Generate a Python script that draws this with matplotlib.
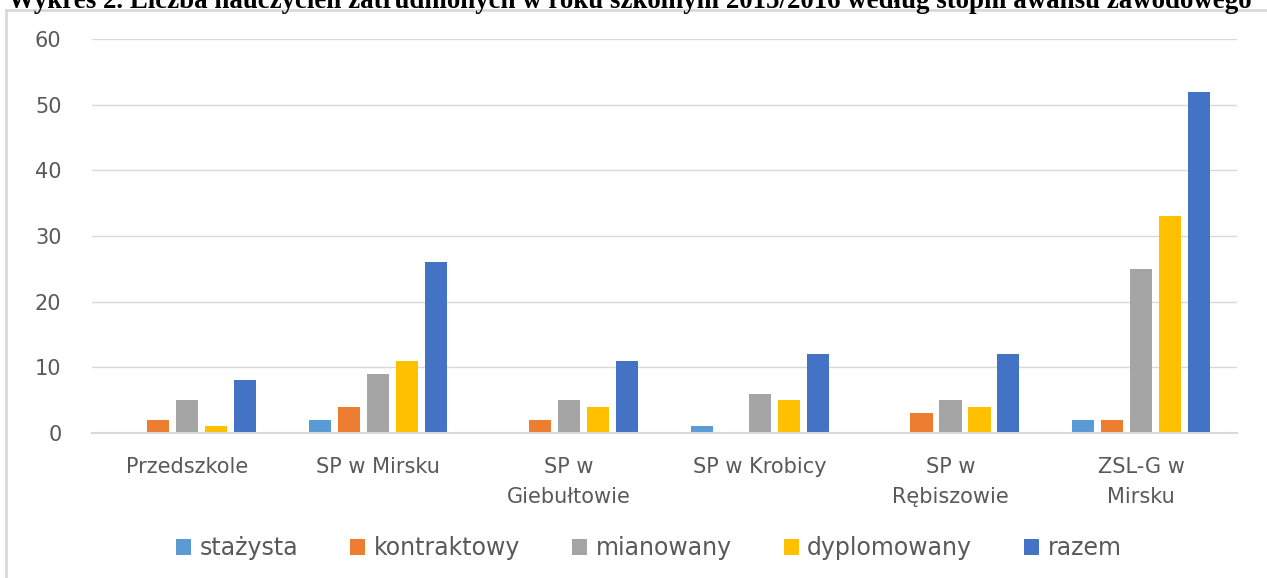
import matplotlib
matplotlib.use("Agg")
import matplotlib.pyplot as plt
import numpy as np
from matplotlib.lines import Line2D

categories = ["Przedszkole", "SP w Mirsku", "SP w\nGiebułtowie", "SP w Krobicy",
              "SP w\nRębiszowie", "ZSL-G w\nMirsku"]
series_names = ["stażysta", "kontraktowy", "mianowany", "dyplomowany", "razem"]
stazysta = [0, 2, 0, 1, 0, 2]
kontraktowy = [2, 4, 2, 0, 3, 2]
mianowany = [5, 9, 5, 6, 5, 25]
dyplomowany = [1, 11, 4, 5, 4, 33]
razem = [8, 26, 11, 12, 12, 52]
yticks = [0, 10, 20, 30, 40, 50, 60]
title = "Wykres 2. Liczba nauczycieli zatrudnionych w roku szkolnym 2015/2016 według stopni awansu zawodowego"

colors = ["#5b9bd5", "#ed7d31", "#a5a5a5", "#ffc000", "#4472c4"]
values = [stazysta, kontraktowy, mianowany, dyplomowany, razem]

plt.rcParams['font.family'] = ['DejaVu Sans']

fig = plt.figure(figsize=(12.67, 5.78), dpi=100)
ax = fig.add_axes([0.0726, 0.2509, 0.976 - 0.0726, 0.9325 - 0.2509])

x = np.arange(len(categories))
step = 0.152
width = 0.116
for i, (name, vals, c) in enumerate(zip(series_names, values, colors)):
    ax.bar(x + (i - 2) * step, vals, width=width, color=c, label=name, zorder=3)

ax.set_xlim(-0.5, len(categories) - 0.5)
ax.set_ylim(0, 60)
ax.set_yticks(yticks)
ax.set_yticklabels([str(t) for t in yticks])
ax.grid(axis='y', color='#d9d9d9', linewidth=1.0, zorder=0)
for s in ['top', 'right', 'left']:
    ax.spines[s].set_visible(False)
ax.spines['bottom'].set_color('#d9d9d9')
ax.spines['bottom'].set_linewidth(1.5)
ax.spines['bottom'].set_zorder(4)
ax.tick_params(axis='both', length=0, colors='#595959', labelsize=15)
ax.tick_params(axis='y', pad=22)
ax.tick_params(axis='x', pad=17)
ax.set_xticks(x)
ax.set_xticklabels(categories, linespacing=1.65)

leg = fig.legend(loc='center', bbox_to_anchor=(0.512, 0.052), ncol=5, frameon=False,
                 fontsize=17, handlelength=0.65, handleheight=0.65, handletextpad=0.35,
                 columnspacing=2.2, labelcolor='#595959')

# outer frame (top and left edges)
fig.add_artist(Line2D([6 / 1267, 1.0], [1 - 10 / 578, 1 - 10 / 578], transform=fig.transFigure,
                      color='#d9d9d9', linewidth=2.0))
fig.add_artist(Line2D([6 / 1267, 6 / 1267], [0, 1 - 10 / 578], transform=fig.transFigure,
                      color='#d9d9d9', linewidth=2.0))

fig.text(0.497, 1 - 8 / 578, title, ha='center', va='baseline', fontsize=19.4,
         fontweight='bold', family=['Liberation Serif', 'DejaVu Serif'], color='black')

fig.savefig("out.png", dpi=100, facecolor='white')
